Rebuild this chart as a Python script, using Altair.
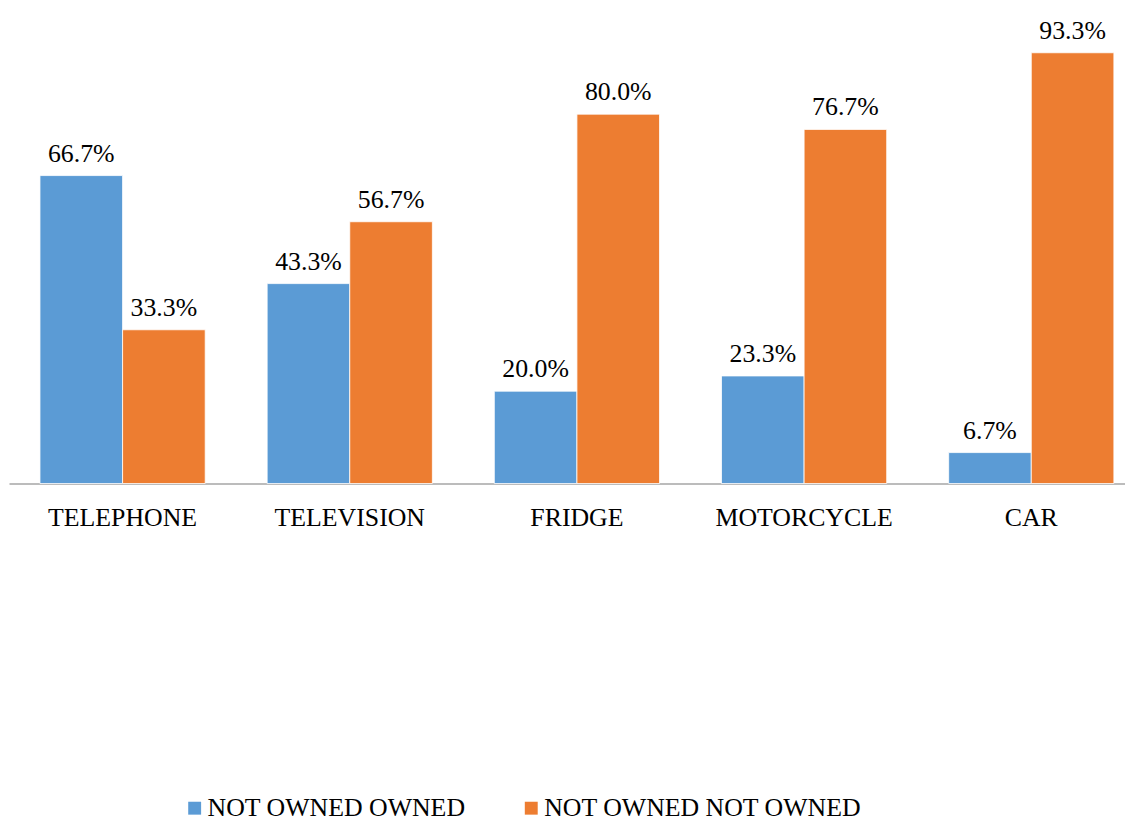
import altair as alt
import pandas as pd

categories = ["TELEPHONE", "TELEVISION", "FRIDGE", "MOTORCYCLE", "CAR"]
series = ["NOT OWNED OWNED", "NOT OWNED NOT OWNED"]
owned = [66.7, 43.3, 20.0, 23.3, 6.7]
not_owned = [33.3, 56.7, 80.0, 76.7, 93.3]
colors = ["#5B9BD5", "#ED7D31"]

rows = []
for c, a, b in zip(categories, owned, not_owned):
    rows.append({"cat": c, "series": series[0], "value": a, "label": f"{a:.1f}%"})
    rows.append({"cat": c, "series": series[1], "value": b, "label": f"{b:.1f}%"})
df = pd.DataFrame(rows)

FONT = "Times New Roman, Liberation Serif, serif"

x = alt.X("cat:N", sort=categories, title=None,
          scale=alt.Scale(range=[1, 1145], paddingInner=0, paddingOuter=0),
          axis=alt.Axis(labelAngle=0, ticks=False, labelPadding=42, labelBaseline="alphabetic",
                        labelFont=FONT, labelFontSize=26, labelColor="#000000",
                        domainColor="#A6A6A6", domainWidth=1.5, grid=False, labelLimit=400))
xo = alt.XOffset("series:N", sort=series,
                 scale=alt.Scale(paddingInner=0, paddingOuter=0.375))
y = alt.Y("value:Q", title=None,
          scale=alt.Scale(domain=[0, 100], range=[476, 11]),
          axis=None)

bars = alt.Chart(df).mark_bar(stroke="white", strokeWidth=0.8).encode(
    x=x, xOffset=xo, y=y,
    color=alt.Color("series:N", sort=series,
                    scale=alt.Scale(domain=series, range=colors),
                    legend=alt.Legend(title=None, orient="none", direction="horizontal",
                                      legendX=175, legendY=790,
                                      symbolType="square", symbolSize=169,
                                      symbolStrokeWidth=0, symbolOffset=0,
                                      labelFont=FONT, labelFontSize=26, labelColor="#000000",
                                      labelLimit=500, columnPadding=53, labelOffset=0)),
)

labels = alt.Chart(df).mark_text(font=FONT, fontSize=26, color="#000000",
                                 baseline="alphabetic", dy=-14).encode(
    x=x, xOffset=xo, y=y, text="label:N"
)

chart = (bars + labels).properties(
    width=1125, height=476,
    autosize=alt.AutoSizeParams(type="none"),
    padding={"left": 0, "top": 0, "right": 0, "bottom": 340},
).configure_view(stroke=None)

chart.save("out.html", embed_options={"renderer": "svg", "actions": False})
